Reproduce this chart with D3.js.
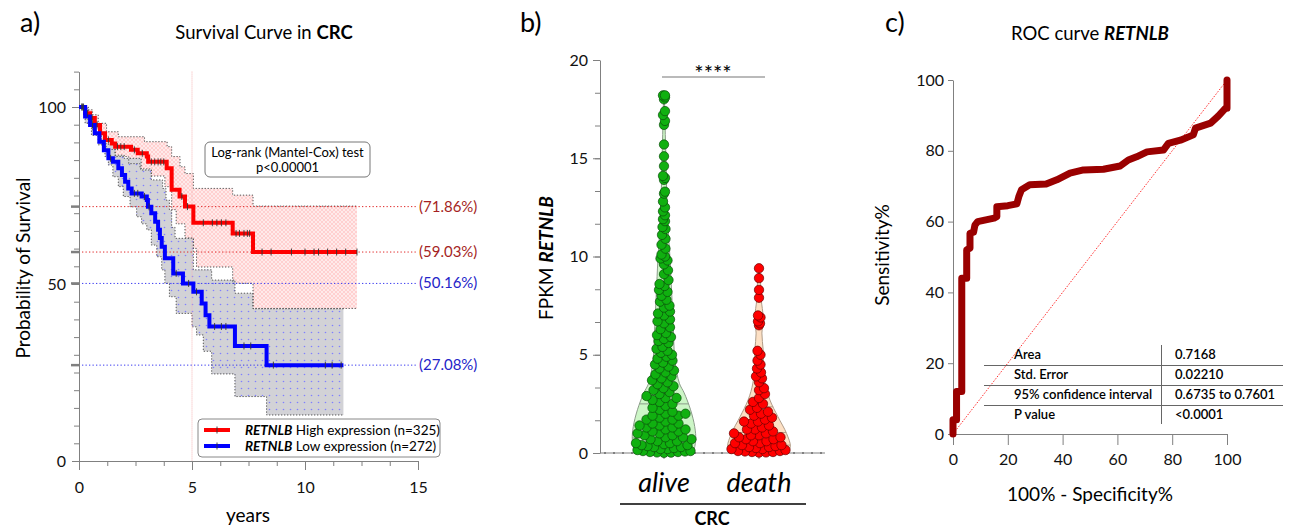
<!DOCTYPE html>
<html>
<head>
<meta charset="utf-8">
<title>RETNLB in CRC</title>
<script src="https://cdn.jsdelivr.net/npm/d3@7"></script>
<style>
    body { margin: 0; background: #fff; }
    svg { font-family: Lato, "Open Sans", sans-serif; }
    .axis path, .axis line { stroke: #808080; }
    .axis text { fill: #111; font-family: Lato, "Open Sans", sans-serif; }
</style>
</head>
<body>
<script>
// ---------- panel a : Kaplan-Meier ----------
var highTime  = [0, 0.27, 0.49, 0.7, 0.93, 1.15, 1.45, 1.6, 2.3, 2.6, 3.0, 3.06, 3.88, 4.1, 4.45, 4.69, 5.06, 6.8, 7.7, 12.3];
var highSurv  = [100, 98.2, 96.9, 94.9, 92.6, 90.7, 89.7, 88.8, 87.9, 86.9, 86.0, 84.5, 82.7, 76.6, 74.7, 71.86, 67.3, 64.3, 59.03, 59.03];
var highUpperTime = [0, 0.3, 0.6, 0.85, 1.22, 1.74, 2.9, 3.9, 4.1, 4.47, 4.69, 5.06, 6.8, 7.7, 12.3];
var highUpper     = [100, 99.2, 97.8, 95.4, 93.0, 91.6, 90.2, 88.8, 86.0, 83.1, 81.2, 77.0, 75.1, 72.0, 72.0];
var highLowerTime = [0, 0.3, 0.6, 0.9, 1.2, 1.6, 2.2, 2.7, 3.2, 3.8, 4.1, 4.3, 4.69, 5.06, 5.2, 6.8, 7.7, 12.3];
var highLower     = [100, 96.5, 93.5, 90.5, 88, 86, 84, 82.5, 80.5, 77.5, 71, 67, 63, 60, 54.8, 50.2, 43.1, 43.1];
var highCensor = [0.12, 0.2, 0.38, 0.58, 0.8, 1.3, 1.7, 1.85, 2.0, 2.45, 2.8, 3.2, 3.35, 3.5, 3.62, 3.75, 4.55, 4.8, 5.5, 5.9, 6.1, 6.3, 6.5, 6.95, 7.1, 7.3, 7.45, 7.55, 8.1, 8.5, 9.4, 10.0, 10.4, 10.6, 11.0, 11.4, 11.8, 12.3];

var lowTime = [0, 0.27, 0.49, 0.7, 0.9, 1.1, 1.3, 1.5, 1.74, 1.9, 2.04, 2.18, 2.33, 2.77, 3.0, 3.05, 3.2, 3.37, 3.5, 3.58, 3.66, 3.8, 4.17, 4.6, 5.06, 5.43, 5.6, 5.77, 6.9, 8.3, 11.7];
var lowSurv = [100, 97.3, 94.9, 92.6, 90.2, 87.8, 85.5, 84.5, 82.7, 80.8, 78.9, 77.0, 75.6, 74.7, 73.7, 71.8, 70.0, 67.6, 65.3, 63.0, 60.5, 57.3, 53.0, 50.16, 47.8, 44.5, 41.2, 38.0, 32.5, 27.08, 27.08];
var lowUpperTime = [0, 0.41, 0.7, 1.0, 1.6, 2.0, 2.75, 3.2, 3.7, 3.85, 4.0, 4.1, 4.25, 5.06, 5.87, 6.9, 7.7, 11.7];
var lowUpper     = [100, 96.3, 92.6, 89.5, 86.4, 85.5, 82.2, 79.4, 77.0, 73.7, 70.9, 66.0, 62.9, 54.0, 51.1, 47.4, 43.0, 43.0];
var lowLowerTime = [0, 0.27, 0.55, 0.85, 1.15, 1.3, 1.5, 1.74, 1.96, 2.26, 2.55, 2.77, 3.0, 3.2, 3.44, 3.66, 3.8, 4.0, 4.3, 5.0, 5.2, 5.5, 5.87, 6.9, 8.3, 11.7];
var lowLower     = [100, 95.4, 92, 89.3, 86, 83.6, 80.3, 77.5, 74.7, 71.8, 69, 67, 65.3, 61, 57.7, 54, 50.2, 46.4, 41.7, 37.9, 35.6, 31, 24.6, 18.2, 13.0, 13.0];
var lowCensor = [0.15, 0.6, 1.4, 2.45, 2.6, 2.9, 3.1, 4.3, 4.85, 5.2, 6.0, 6.3, 6.5, 7.3, 7.6, 8.6, 10.9, 11.2, 11.6];

var refValues = [71.86, 59.03, 50.16, 27.08];
var refLabels = ["(71.86%)", "(59.03%)", "(50.16%)", "(27.08%)"];

// ---------- panel b : violin ----------
var groups = ["alive", "death"];
var aliveFPKM = [18.2, 18.2, 18.1, 18.0, 17.4, 17.2, 16.9, 16.7, 15.7, 15.1, 14.6, 14.1, 14.0, 13.9, 13.3, 13.2, 12.8, 12.5, 12.3, 12.1,
    11.9, 11.8, 11.5, 11.4, 11.1, 10.9, 10.6, 10.4, 10.1, 10.0, 9.9, 9.8, 9.6, 9.3, 9.1, 8.8, 8.6, 8.5, 8.3, 8.2,
    8.0, 7.8, 7.7, 7.5, 7.4, 7.2, 7.1, 7.0, 6.8, 6.7, 6.6, 6.4, 6.3, 6.1, 6.0, 5.9, 5.8, 5.7, 5.6, 5.4,
    5.3, 5.2, 5.1, 5.0, 4.9, 4.8, 4.7, 4.6, 4.5, 4.4, 4.3, 4.2, 4.1, 4.0, 3.9, 3.8, 3.7, 3.6, 3.5, 3.4,
    3.3, 3.2, 3.1, 3.0, 2.9, 2.8, 2.8, 2.7, 2.6, 2.5, 2.4, 2.3, 2.2, 2.1, 2.0, 2.0, 1.9, 1.9, 1.8, 1.7,
    1.7, 1.6, 1.5, 1.5, 1.4, 1.4, 1.3, 1.3, 1.2, 1.2, 1.1, 1.1, 1.0, 1.0, 0.9, 0.9, 0.8, 0.8, 0.7, 0.7,
    0.6, 0.6, 0.5, 0.5, 0.45, 0.4, 0.4, 0.35, 0.3, 0.3, 0.25, 0.2, 0.2, 0.15, 0.1, 0.1, 0.08, 0.05, 0.05, 0.03,
    0.02, 0.01];
var deathFPKM = [9.4, 8.9, 8.3, 7.9, 7.0, 6.9, 6.7, 6.6, 6.5, 5.2, 5.0, 4.7, 4.5, 4.3, 4.1, 3.9, 3.8, 3.6, 3.3, 3.2,
    3.0, 2.8, 2.6, 2.5, 2.3, 2.2, 2.1, 2.0, 1.9, 1.8, 1.7, 1.6, 1.6, 1.5, 1.4, 1.3, 1.2, 1.2, 1.1, 1.0,
    1.0, 0.9, 0.9, 0.8, 0.8, 0.7, 0.7, 0.6, 0.6, 0.5, 0.5, 0.4, 0.4, 0.35, 0.3, 0.3, 0.25, 0.2, 0.2, 0.15,
    0.1, 0.1, 0.08, 0.05, 0.05, 0.03, 0.02];
// violin outline (value, relative half-width)
var aliveViolinV = [0, 0.07, 0.66, 1.34, 2.2, 3.06, 3.55, 4.75, 6.45, 8.15, 9.85, 12, 15, 18.2];
var aliveViolinW = [0.84, 0.91, 0.99, 0.96, 0.83, 0.63, 0.48, 0.34, 0.29, 0.24, 0.19, 0.11, 0.06, 0.01];
var deathViolinV = [0, 0.32, 1.0, 1.85, 2.7, 3.56, 4.5, 5.25, 6.1, 6.9, 7.8, 8.6, 9.4];
var deathViolinW = [0.87, 0.98, 0.86, 0.59, 0.34, 0.19, 0.14, 0.13, 0.09, 0.13, 0.07, 0.05, 0.01];
var aliveQuart = [0.77, 2.5, 5.9];
var deathQuart = [0.4, 1.04, 2.35];

// ---------- panel c : ROC ----------
var rocFPR = [0, 0, 1.3, 1.3, 3.2, 3.2, 5, 5, 6.2, 6.2, 7.5, 8, 9, 12, 15, 16, 16, 20, 23.3, 24,
    25, 28, 34, 37.9, 42.7, 47.6, 54.9, 61, 64, 67, 70.8, 76.8, 78.6, 83, 87.7, 88.5, 94, 96.8, 99.4, 100, 100];
var rocTPR = [0, 4, 4, 12, 12, 44, 44, 52, 52.5, 56.7, 57, 59, 60, 60.5, 61, 61.4, 64.2, 64.5, 65, 67,
    69, 70.4, 70.6, 71.8, 73.7, 74.6, 74.8, 75.7, 77.4, 78.3, 79.7, 80.2, 82.1, 83, 84.5, 86.4, 87.8, 89.8, 92, 92, 100];
var tableLabels = ["Area", "Std. Error", "95% confidence interval", "P value"];
var tableValues = ["0.7168", "0.02210", "0.6735 to 0.7601", "<0.0001"];

var w = 1294, h = 530;
var svg = d3.select("body").append("svg").attr("width", w).attr("height", h);

var defs = svg.append("defs");
var pink = defs.append("pattern").attr("id", "pinkHatch").attr("width", 4).attr("height", 4)
    .attr("patternUnits", "userSpaceOnUse");
pink.append("rect").attr("width", 4).attr("height", 4).attr("fill", "#ffeaea");
pink.append("path").attr("d", "M0,0L4,4M4,0L0,4").attr("stroke", "#ffbdbd").attr("stroke-width", 0.6);
var grey = defs.append("pattern").attr("id", "greyDots").attr("width", 7).attr("height", 7)
    .attr("patternUnits", "userSpaceOnUse");
grey.append("rect").attr("width", 7).attr("height", 7).attr("fill", "#d2d2d6");
grey.append("circle").attr("cx", 3.5).attr("cy", 3.5).attr("r", 0.8).attr("fill", "#8080ff");

// panel letters
[["a)", 20], ["b)", 520], ["c)", 885]].forEach(function(d) {
    svg.append("text").attr("x", d[1]).attr("y", 32).attr("font-size", 27).text(d[0]);
});

// ======================= PANEL A ==========================
var xA = d3.scaleLinear().domain([0, 15]).range([79, 418]);
var yA = d3.scaleLinear().domain([0, 110]).range([461, 461 - 110 * 3.54]);

var ta = svg.append("text").attr("x", 264).attr("y", 39).attr("text-anchor", "middle").attr("font-size", 18.5);
ta.append("tspan").text("Survival Curve in ");
ta.append("tspan").attr("font-weight", "bold").text("CRC");

function stepPoints(ts, ss) {
    var pts = [];
    for (var i = 0; i < ts.length; i++) {
        pts.push([ts[i], ss[i]]);
        if (i < ts.length - 1) pts.push([ts[i + 1], ss[i]]);
    }
    return pts;
}
function stepValue(ts, ss, t) {
    var i = d3.bisectRight(ts, t) - 1;
    return ss[Math.max(0, i)];
}
var lineA = d3.line().x(function(d) { return xA(d[0]); }).y(function(d) { return yA(d[1]); });

function band(ut, us, lt, ls) {
    return stepPoints(ut, us).concat(stepPoints(lt, ls).reverse());
}
svg.append("path").attr("d", lineA(band(highUpperTime, highUpper, highLowerTime, highLower)))
    .attr("fill", "url(#pinkHatch)");
svg.append("path").attr("d", lineA(band(lowUpperTime, lowUpper, lowLowerTime, lowLower)))
    .attr("fill", "url(#greyDots)");

[[highUpperTime, highUpper], [highLowerTime, highLower], [lowUpperTime, lowUpper], [lowLowerTime, lowLower]].forEach(function(c) {
    svg.append("path").attr("d", lineA(stepPoints(c[0], c[1])))
        .attr("fill", "none").attr("stroke", "#555").attr("stroke-width", 1).attr("stroke-dasharray", "1.3,1.7");
});

// 5 year marker
svg.append("line").attr("x1", xA(5)).attr("x2", xA(5)).attr("y1", yA(110)).attr("y2", yA(0))
    .attr("stroke", "#f6b5b5").attr("stroke-width", 1).attr("stroke-dasharray", "1,1");

// reference lines and labels
var refColors = ["#e02828", "#e02828", "#3a3af0", "#3a3af0"];
var refText = ["#a51f24", "#a51f24", "#2424c8", "#2424c8"];
refValues.forEach(function(v, i) {
    svg.append("line").attr("x1", xA(0) + 3).attr("x2", 417).attr("y1", yA(v)).attr("y2", yA(v))
        .attr("stroke", refColors[i]).attr("stroke-width", 1).attr("stroke-dasharray", "1.3,2.2");
    svg.append("text").attr("x", 419).attr("y", yA(v) + 5).attr("font-size", 15)
        .attr("fill", refText[i]).text(refLabels[i]);
});

// axes
var gyA = svg.append("g").attr("class", "axis").attr("transform", "translate(79,0)");
gyA.call(d3.axisLeft(yA).tickValues(d3.range(0, 111, 5)).tickSize(5).tickFormat("").tickSizeOuter(0));
gyA.append("g").call(d3.axisLeft(yA).tickValues([0, 50, 100]).tickSize(7).tickPadding(6).tickSizeOuter(0))
    .select(".domain").remove();
gyA.selectAll("text").attr("font-size", 16);
refValues.forEach(function(v) {
    gyA.append("line").attr("x1", -8).attr("x2", 0).attr("y1", yA(v)).attr("y2", yA(v))
        .attr("stroke", "#000").attr("stroke-width", 2.5);
});
var gxA = svg.append("g").attr("class", "axis").attr("transform", "translate(0,461)");
gxA.call(d3.axisBottom(xA).tickValues(d3.range(0, 15.01, 1.25)).tickSize(5).tickFormat("").tickSizeOuter(0));
gxA.append("g").call(d3.axisBottom(xA).tickValues([0, 5, 10, 15]).tickSize(9).tickPadding(12).tickFormat(d3.format("d")).tickSizeOuter(0))
    .select(".domain").remove();
gxA.selectAll("text").attr("font-size", 16);

svg.append("text").attr("transform", "translate(30,268) rotate(-90)").attr("text-anchor", "middle")
    .attr("font-size", 19).text("Probability of Survival");
svg.append("text").attr("x", 248).attr("y", 522).attr("text-anchor", "middle").attr("font-size", 19).text("years");

// KM curves
svg.append("path").attr("d", lineA(stepPoints(highTime, highSurv))).attr("fill", "none")
    .attr("stroke", "#ff0000").attr("stroke-width", 4);
svg.append("path").attr("d", lineA(stepPoints(lowTime, lowSurv))).attr("fill", "none")
    .attr("stroke", "#0000ff").attr("stroke-width", 4);
[[highCensor, highTime, highSurv], [lowCensor, lowTime, lowSurv]].forEach(function(c) {
    svg.append("g").selectAll("line").data(c[0]).enter().append("line")
        .attr("x1", function(t) { return xA(t); }).attr("x2", function(t) { return xA(t); })
        .attr("y1", function(t) { return yA(stepValue(c[1], c[2], t)) - 3.5; })
        .attr("y2", function(t) { return yA(stepValue(c[1], c[2], t)) + 3.5; })
        .attr("stroke", "#333").attr("stroke-width", 0.9);
});

// log-rank box
svg.append("rect").attr("x", 205).attr("y", 142).attr("width", 165).attr("height", 35).attr("rx", 5)
    .attr("fill", "#fff").attr("stroke", "#777");
svg.append("text").attr("x", 287.5).attr("y", 157).attr("text-anchor", "middle").attr("font-size", 13).text("Log-rank (Mantel-Cox) test");
svg.append("text").attr("x", 287.5).attr("y", 172).attr("text-anchor", "middle").attr("font-size", 13).text("p<0.00001");

// legend
svg.append("rect").attr("x", 198).attr("y", 419).attr("width", 242).attr("height", 38).attr("rx", 4)
    .attr("fill", "#fff").attr("stroke", "#888");
[["High expression (n=325)", "#ff0000", 430], ["Low expression (n=272)", "#0000ff", 446]].forEach(function(d) {
    svg.append("line").attr("x1", 204).attr("x2", 230).attr("y1", d[2]).attr("y2", d[2])
        .attr("stroke", d[1]).attr("stroke-width", 4);
    svg.append("line").attr("x1", 217).attr("x2", 217).attr("y1", d[2] - 3.5).attr("y2", d[2] + 3.5)
        .attr("stroke", "#333").attr("stroke-width", 0.9);
    var t = svg.append("text").attr("x", 245).attr("y", d[2] + 4.5).attr("font-size", 13.5);
    t.append("tspan").attr("font-weight", "bold").attr("font-style", "italic").text("RETNLB");
    t.append("tspan").text(" " + d[0]);
});

// ======================= PANEL B ==========================
var yB = d3.scaleLinear().domain([0, 20]).range([453, 60]);
var xB = d3.scalePoint().domain(groups).range([664, 759]);
var wB = d3.scaleLinear().domain([0, 1]).range([0, 32]);

var violins = [
    { g: "alive", v: aliveViolinV, wv: aliveViolinW, q: aliveQuart, pts: aliveFPKM, fill: "#ccf6c6", stroke: "#8c9c8a", dot: "#10b010", dotStroke: "#0b4d0b" },
    { g: "death", v: deathViolinV, wv: deathViolinW, q: deathQuart, pts: deathFPKM, fill: "#fde0c4", stroke: "#b09c88", dot: "#ff0000", dotStroke: "#6a0000" }
];

var gxB = svg.append("g").attr("class", "axis").attr("transform", "translate(0,453)");
gxB.append("line").attr("x1", 600).attr("x2", 825).attr("stroke", "#808080");
gxB.append("line").attr("x1", 604).attr("x2", 825).attr("stroke", "#000").attr("stroke-width", 2.2)
    .attr("stroke-dasharray", "2,7");
gxB.selectAll(".tk").data(groups).enter().append("line")
    .attr("x1", function(d) { return xB(d); }).attr("x2", function(d) { return xB(d); })
    .attr("y1", 0).attr("y2", 6).attr("stroke", "#808080");

violins.forEach(function(vd) {
    var cx = xB(vd.g);
    var prof = vd.v.map(function(v, i) { return [v, vd.wv[i]]; });
    var area = d3.area().curve(d3.curveCatmullRom)
        .y(function(d) { return yB(d[0]); })
        .x0(function(d) { return cx - wB(d[1]); })
        .x1(function(d) { return cx + wB(d[1]); });
    svg.append("path").attr("d", area(prof)).attr("fill", vd.fill).attr("stroke", vd.stroke).attr("stroke-width", 1);
    var wAt = d3.scaleLinear().domain(vd.v).range(vd.wv).clamp(true);
    vd.wAt = wAt;
    vd.q.forEach(function(q) {
        svg.append("line").attr("x1", cx - wB(wAt(q))).attr("x2", cx + wB(wAt(q)))
            .attr("y1", yB(q)).attr("y2", yB(q)).attr("stroke", vd.stroke).attr("stroke-width", 1);
    });
});

// deterministic beeswarm kept inside the violin outline
function swarm(values, cx, minDist, limitAt) {
    var pts = values.map(function(v) { return { v: v, y: yB(v) }; })
        .sort(function(a, b) { return a.v - b.v; });
    var placed = [];
    pts.forEach(function(p) {
        var lim = Math.max(1, limitAt(p.v) - 2.5);
        var best = null, bestD = -1;
        for (var k = 0; k < 400; k++) {
            var off = k === 0 ? 0 : (k % 2 === 1 ? 1 : -1) * Math.ceil(k / 2) * 0.5;
            if (Math.abs(off) > lim) break;
            var dmin = Infinity;
            placed.forEach(function(q) {
                var dx = q.x - (cx + off), dy = q.y - p.y;
                dmin = Math.min(dmin, Math.sqrt(dx * dx + dy * dy));
            });
            if (dmin >= minDist) { best = off; bestD = dmin; break; }
            if (dmin > bestD) { bestD = dmin; best = off; }
        }
        p.x = cx + best;
        placed.push(p);
    });
    return placed;
}

violins.forEach(function(vd) {
    var sw = swarm(vd.pts, xB(vd.g), 7, function(v) { return wB(vd.wAt(v)); });
    svg.append("g").selectAll("circle").data(sw).enter().append("circle")
        .attr("cx", function(d) { return d.x; }).attr("cy", function(d) { return d.y; })
        .attr("r", 4.7).attr("fill", vd.dot).attr("stroke", vd.dotStroke).attr("stroke-width", 0.7);
});

var gyB = svg.append("g").attr("class", "axis").attr("transform", "translate(600,0)");
gyB.call(d3.axisLeft(yB).tickValues(d3.range(0, 20.01, 5 / 3)).tickSize(5).tickFormat("").tickSizeOuter(0));
gyB.append("g").call(d3.axisLeft(yB).tickValues([0, 5, 10, 15, 20]).tickSize(7).tickPadding(5).tickSizeOuter(0))
    .select(".domain").remove();
gyB.selectAll("text").attr("font-size", 16);

var tyB = svg.append("text").attr("transform", "translate(553,258) rotate(-90)").attr("text-anchor", "middle").attr("font-size", 19);
tyB.append("tspan").text("FPKM ");
tyB.append("tspan").attr("font-weight", "bold").attr("font-style", "italic").text("RETNLB");

groups.forEach(function(g) {
    svg.append("text").attr("x", xB(g)).attr("y", 492).attr("text-anchor", "middle")
        .attr("font-size", 27).attr("font-style", "italic").text(g);
});
svg.append("line").attr("x1", 620).attr("x2", 806).attr("y1", 504).attr("y2", 504).attr("stroke", "#000").attr("stroke-width", 1.5);
svg.append("text").attr("x", 712).attr("y", 525).attr("text-anchor", "middle").attr("font-size", 18)
    .attr("font-weight", "bold").text("CRC");

svg.append("line").attr("x1", 662).attr("x2", 765).attr("y1", 77).attr("y2", 77).attr("stroke", "#777").attr("stroke-width", 1.2);
svg.append("text").attr("x", 713).attr("y", 81).attr("text-anchor", "middle").attr("font-size", 22).text("****");

// ======================= PANEL C ==========================
var xC = d3.scaleLinear().domain([0, 100]).range([953, 1227]);
var yC = d3.scaleLinear().domain([0, 100]).range([434, 80]);

var tc = svg.append("text").attr("x", 1090).attr("y", 40).attr("text-anchor", "middle").attr("font-size", 18.5);
tc.append("tspan").text("ROC curve ");
tc.append("tspan").attr("font-weight", "bold").attr("font-style", "italic").text("RETNLB");

var gxC = svg.append("g").attr("class", "axis").attr("transform", "translate(0,434)");
gxC.call(d3.axisBottom(xC).tickValues(d3.range(0, 101, 20)).tickSize(11).tickPadding(9).tickSizeOuter(0));
gxC.selectAll("text").attr("font-size", 16);
var gyC = svg.append("g").attr("class", "axis").attr("transform", "translate(953,0)");
gyC.call(d3.axisLeft(yC).tickValues(d3.range(0, 101, 20)).tickSize(5).tickPadding(4).tickSizeOuter(0));
gyC.selectAll("text").attr("font-size", 16);

svg.append("line").attr("x1", xC(0)).attr("y1", yC(0)).attr("x2", xC(100)).attr("y2", yC(100))
    .attr("stroke", "#ff3030").attr("stroke-width", 1).attr("stroke-dasharray", "1.5,1.5");

var rocPts = rocFPR.map(function(x, i) { return [x, rocTPR[i]]; });
svg.append("path").attr("d", d3.line().x(function(d) { return xC(d[0]); }).y(function(d) { return yC(d[1]); })(rocPts))
    .attr("fill", "none").attr("stroke", "#9a0000").attr("stroke-width", 7)
    .attr("stroke-linejoin", "round").attr("stroke-linecap", "round");

svg.append("text").attr("transform", "translate(889,255) rotate(-90)").attr("text-anchor", "middle")
    .attr("font-size", 19).text("Sensitivity%");
svg.append("text").attr("x", 1090).attr("y", 501).attr("text-anchor", "middle").attr("font-size", 19).text("100% - Specificity%");

// results table
var rowY = d3.scaleLinear().domain([0, 1]).range([359, 379]);
tableLabels.forEach(function(lab, i) {
    svg.append("text").attr("x", 1014).attr("y", rowY(i)).attr("font-size", 13).attr("font-weight", 600).text(lab);
    svg.append("text").attr("x", 1175).attr("y", rowY(i)).attr("font-size", 13).attr("font-weight", 600).text(tableValues[i]);
    if (i > 0) {
        svg.append("line").attr("x1", 984).attr("x2", 1283).attr("y1", rowY(i) - 13.5).attr("y2", rowY(i) - 13.5)
            .attr("stroke", "#666").attr("stroke-width", 1);
    }
});
svg.append("line").attr("x1", 1161.5).attr("x2", 1161.5).attr("y1", 345).attr("y2", 424).attr("stroke", "#666");
</script>
</body>
</html>
